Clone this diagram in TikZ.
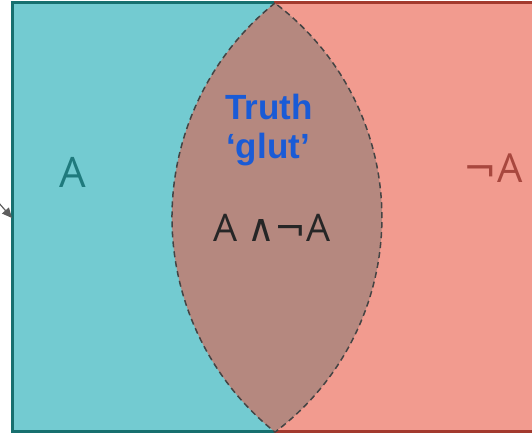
\documentclass[tikz,border=0pt]{standalone}
\usepackage{fontspec}
\setmainfont{Open Sans}
\newfontfamily\symfont{DejaVu Sans}
\newfontfamily\blufont{Liberation Sans}
\usetikzlibrary{arrows.meta}
\definecolor{tealfill}{HTML}{73CBD1}
\definecolor{tealline}{HTML}{17706F}
\definecolor{salfill}{HTML}{F29B8F}
\definecolor{salline}{HTML}{A33A2E}
\definecolor{lensfill}{HTML}{B5887F}
\definecolor{lensline}{HTML}{444444}
\definecolor{atext}{HTML}{1F7A7D}
\definecolor{natext}{HTML}{A8473E}
\definecolor{blutext}{HTML}{1A5BD6}
\definecolor{arrgray}{HTML}{5E5E5E}
\tikzset{
  setbox/.style={line width=3pt},
  lbl/.style={inner sep=0pt, anchor=center},
}
\begin{document}
\begin{tikzpicture}[x=1pt,y=1pt]
\useasboundingbox (0,0) rectangle (532,433);
\clip (0,0) rectangle (532,433);
\draw[setbox, draw=tealline, fill=tealfill] (12.5,1.5) rectangle (275,430.5);
\draw[setbox, draw=salline, fill=salfill] (275,1.5) rectangle (540,430.5);
\draw[fill=lensfill, draw=lensline, line width=1.5pt, dash pattern=on 6pt off 4pt]
  (275,430) arc[start angle=128.7, end angle=231.3, radius=274.9]
  arc[start angle=-53, end angle=53, radius=268.5] -- cycle;
\node[lbl, text=atext, font=\fontsize{42}{42}\selectfont] (a) at (73,261) {A};
\node[lbl, text=natext, font=\fontsize{40}{40}\selectfont] (na) at (493,265) {{\symfont ¬}A};
\node[lbl, text=blutext, font=\blufont\bfseries\fontsize{35}{35}\selectfont] (t1) at (269,326) {Truth};
\node[lbl, text=blutext, font=\blufont\bfseries\fontsize{35}{35}\selectfont] (t2) at (268,283) {‘glut’};
\node[lbl, text=black!85, font=\fontsize{38}{38}\selectfont] (glut) at (272,205) {A {\symfont ∧¬}A};
\coordinate (s) at (-2,231);
\coordinate (e) at (12,215);
\draw[arrgray, line width=1.2pt, -{Triangle[length=10pt,width=9pt]}] (s) -- (e);
\end{tikzpicture}
\end{document}
